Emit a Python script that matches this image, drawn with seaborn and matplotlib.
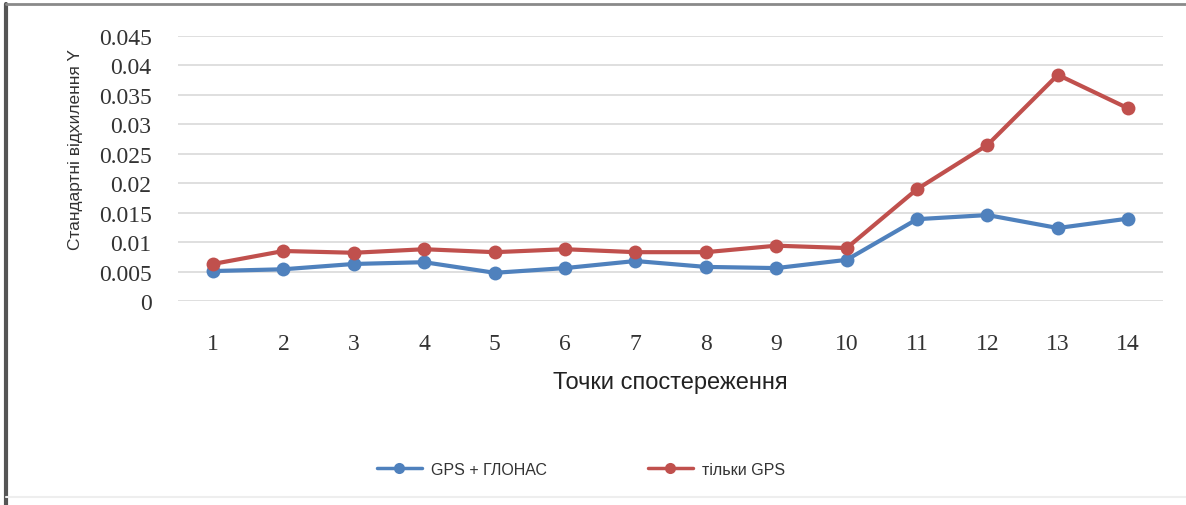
import pandas as pd
import matplotlib.pyplot as plt
import seaborn as sns
from matplotlib.lines import Line2D

# Data
points = list(range(1, 15))
gps_glonass = [0.0051, 0.0054, 0.0063, 0.0066, 0.0048, 0.0056, 0.0068,
               0.0058, 0.0056, 0.0070, 0.0139, 0.0146, 0.0124, 0.0140]
gps_only = [0.0063, 0.0085, 0.0082, 0.0088, 0.0083, 0.0088, 0.0083,
            0.0083, 0.0094, 0.0090, 0.0190, 0.0265, 0.0384, 0.0327]
series_names = ['GPS + ГЛОНАС', 'тільки GPS']
y_ticks = [0, 0.005, 0.01, 0.015, 0.02, 0.025, 0.03, 0.035, 0.04, 0.045]
y_tick_labels = ['0', '0.005', '0.01', '0.015', '0.02', '0.025', '0.03', '0.035', '0.04', '0.045']


def main():
    df = pd.concat([
        pd.DataFrame({'point': points, 'value': gps_glonass, 'series': series_names[0]}),
        pd.DataFrame({'point': points, 'value': gps_only, 'series': series_names[1]}),
    ])

    sns.set_style('white')
    plt.rcParams['font.family'] = ['Liberation Sans', 'DejaVu Sans']

    fig = plt.figure(figsize=(11.86, 5.06), dpi=100)
    ax = fig.add_axes([0.150, 0.403, 0.831, 0.524])

    palette = {series_names[0]: '#4f81bd', series_names[1]: '#c0504d'}
    sns.lineplot(data=df, x='point', y='value', hue='series', palette=palette,
                 marker='o', markersize=10, markeredgewidth=0, linewidth=3,
                 ax=ax, legend=True)

    ax.set_xlim(0.5, 14.5)
    ax.set_ylim(0, 0.045)
    ax.set_xticks(points)
    ax.set_xticklabels([str(p) for p in points], family='Liberation Serif', fontsize=17, color='#333333')
    ax.set_yticks(y_ticks)
    ax.set_yticklabels(y_tick_labels, family='Liberation Serif', fontsize=17, color='#333333')
    ax.tick_params(axis='both', length=0)
    ax.tick_params(axis='x', pad=23)
    ax.tick_params(axis='y', pad=19)
    ax.yaxis.grid(True, color='#d9d9d9', linewidth=1.2)
    ax.set_axisbelow(True)
    for s in ax.spines.values():
        s.set_visible(False)

    ax.set_xlabel('Точки спостереження', fontsize=17, color='#222222', labelpad=12)
    ax.set_ylabel('Стандартні відхилення Y', fontsize=12.5, color='#333333')
    ax.yaxis.set_label_coords(-0.0965, 0.574)

    handles, labels = ax.get_legend_handles_labels()
    for h in handles:
        h.set_markersize(8)
        h.set_linewidth(2.5)
    ax.legend(handles, labels, loc='center', bbox_to_anchor=(0.49, 0.07),
              bbox_transform=fig.transFigure, ncol=2, frameon=False,
              fontsize=11.5, handlelength=2.8, handletextpad=0.6,
              columnspacing=6.3, labelcolor='#333333')

    # outer frame (left and top edges are visible in the reference)
    fig.add_artist(Line2D([0.005, 0.005], [0.0, 0.99], transform=fig.transFigure,
                          color='#555555', linewidth=3))
    fig.add_artist(Line2D([0.005, 1.0], [0.99, 0.99], transform=fig.transFigure,
                          color='#8a8a8a', linewidth=2))
    fig.add_artist(Line2D([0.005, 1.0], [0.016, 0.016], transform=fig.transFigure,
                          color='#eeeeee', linewidth=1.5))

    plt.savefig('out.png', dpi=100)
    plt.close()


if __name__ == "__main__":
    main()
